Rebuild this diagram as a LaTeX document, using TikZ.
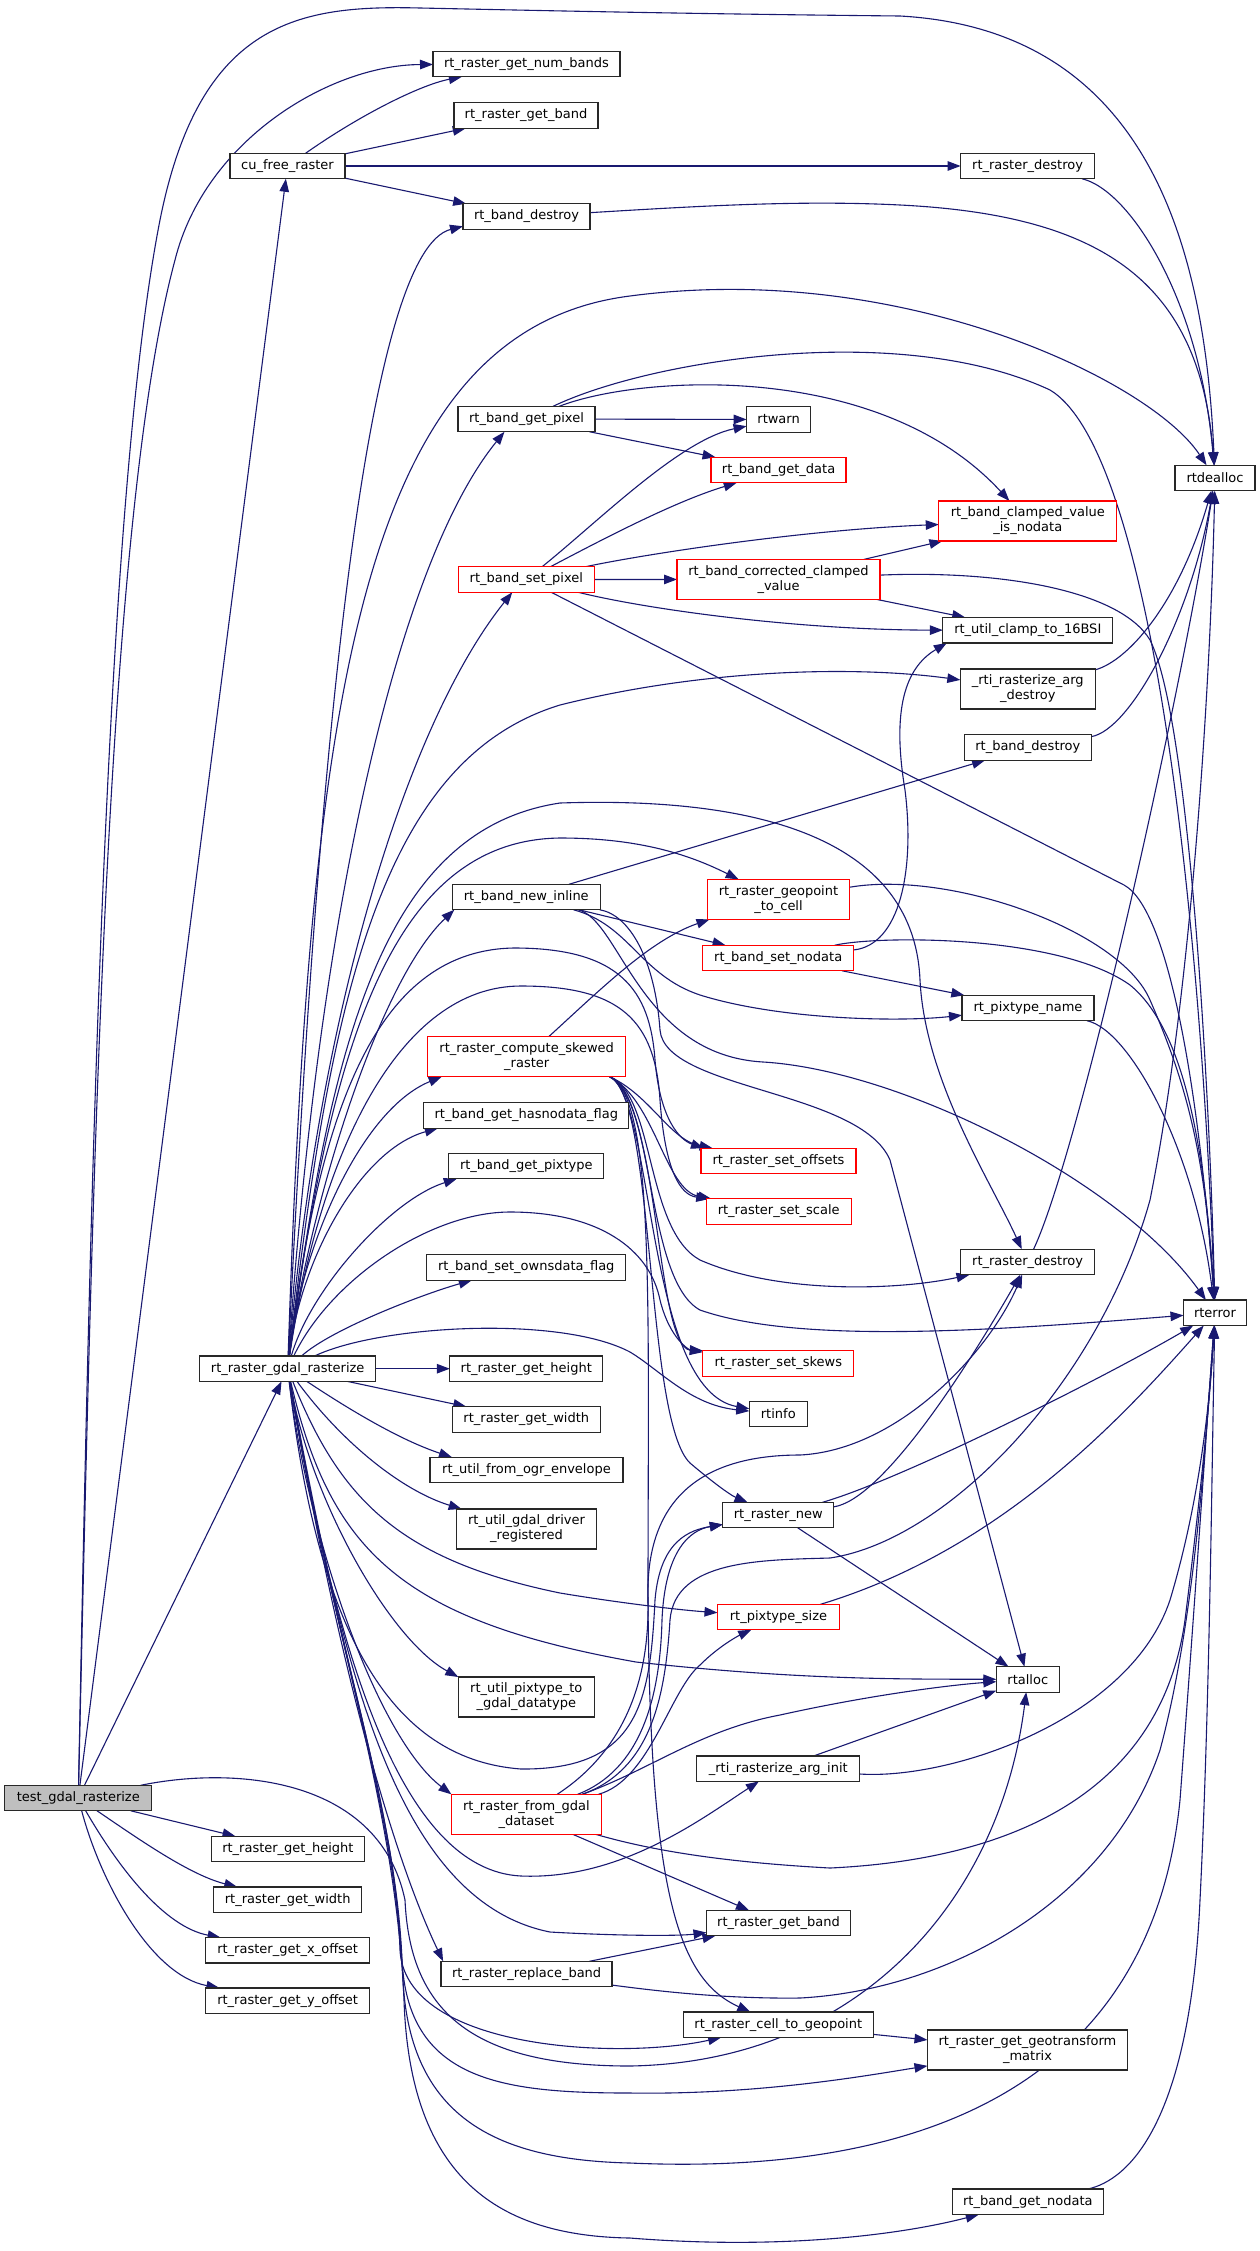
\documentclass[tikz,border=0pt]{standalone}
\usepackage{fontspec}
\newfontfamily\fnfont{DejaVu Sans}
\usetikzlibrary{arrows.meta}
\definecolor{edgec}{RGB}{25,25,112}
\definecolor{nodeb}{RGB}{40,40,40}
\definecolor{nodered}{RGB}{255,0,0}
\definecolor{curgray}{RGB}{191,191,191}
\pgfdeclarelayer{bg}
\pgfsetlayers{bg,main}
\tikzset{
 fn/.style={draw=nodeb, fill=white, line width=1.3pt, minimum height=25.5pt, inner sep=0pt, outer sep=0pt, font=\fnfont\fontsize{13pt}{15pt}\selectfont, align=center},
 fnr/.style={fn, draw=nodered},
 fnc/.style={fn, fill=curgray},
 tall/.style={minimum height=40pt},
 call/.style={draw=edgec, line width=1.1pt, -{Triangle[length=13pt,width=9.5pt]}},
}
\begin{document}
\begin{tikzpicture}[x=1pt,y=-1pt]
\useasboundingbox (0,0) rectangle (1260,2251);
% column 1
\node[fnc, minimum width=147pt] (T) at (78.3,1798) {test\_gdal\_rasterize};
% column 2
\node[fn, minimum width=115pt] (cu) at (287.5,166) {cu\_free\_raster};
\node[fn, minimum width=176pt] (R) at (287.7,1368.7) {rt\_raster\_gdal\_rasterize};
\node[fn, minimum width=153pt] (ghb) at (287.9,1849) {rt\_raster\_get\_height};
\node[fn, minimum width=148pt] (gwb) at (287.7,1899.7) {rt\_raster\_get\_width};
\node[fn, minimum width=164pt] (gx) at (287.7,1950.3) {rt\_raster\_get\_x\_offset};
\node[fn, minimum width=164pt] (gy) at (287.7,2000.7) {rt\_raster\_get\_y\_offset};
% column 3
\node[fn, minimum width=187pt] (nb) at (526.5,64) {rt\_raster\_get\_num\_bands};
\node[fn, minimum width=144pt] (gb1) at (526,115.5) {rt\_raster\_get\_band};
\node[fn, minimum width=127pt] (bd1) at (526.5,216.5) {rt\_band\_destroy};
\node[fn, minimum width=137pt] (gp) at (526.5,419) {rt\_band\_get\_pixel};
\node[fnr, minimum width=136pt] (sp) at (526.3,579.5) {rt\_band\_set\_pixel};
\node[fn, minimum width=148pt] (ni) at (526.3,897) {rt\_band\_new\_inline};
\node[fnr, tall, minimum width=198pt] (cs) at (526.7,1056.7) {rt\_raster\_compute\_skewed\\\_raster};
\node[fn, minimum width=205pt] (hn) at (526.3,1115.5) {rt\_band\_get\_hasnodata\_flag};
\node[fn, minimum width=155pt] (pt) at (526.3,1166) {rt\_band\_get\_pixtype};
\node[fn, minimum width=199pt] (so) at (526.3,1267.5) {rt\_band\_set\_ownsdata\_flag};
\node[fn, minimum width=153pt] (gh) at (526.3,1368.7) {rt\_raster\_get\_height};
\node[fn, minimum width=148pt] (gw) at (526.3,1419.4) {rt\_raster\_get\_width};
\node[fn, minimum width=193pt] (oe) at (526.5,1470) {rt\_util\_from\_ogr\_envelope};
\node[fn, tall, minimum width=140pt] (dr) at (526.5,1529) {rt\_util\_gdal\_driver\\\_registered};
\node[fn, tall, minimum width=136pt] (pg) at (526.3,1697) {rt\_util\_pixtype\_to\\\_gdal\_datatype};
\node[fnr, tall, minimum width=150pt] (fg) at (526.4,1814.3) {rt\_raster\_from\_gdal\\\_dataset};
\node[fn, minimum width=171pt] (rb) at (526.6,1974) {rt\_raster\_replace\_band};
% column 4
\node[fn, minimum width=64pt] (rtwarn) at (778.6,419.5) {rtwarn};
\node[fnr, minimum width=135pt] (gd) at (778.6,470) {rt\_band\_get\_data};
\node[fnr, tall, minimum width=203pt] (cc) at (778.5,579.4) {rt\_band\_corrected\_clamped\\\_value};
\node[fnr, tall, minimum width=142pt] (g2c) at (778.5,899.4) {rt\_raster\_geopoint\\\_to\_cell};
\node[fnr, minimum width=151pt] (sn) at (778.2,958) {rt\_band\_set\_nodata};
\node[fnr, minimum width=155pt] (sof) at (778.5,1161) {rt\_raster\_set\_offsets};
\node[fnr, minimum width=145pt] (ssc) at (778.7,1211.5) {rt\_raster\_set\_scale};
\node[fnr, minimum width=151pt] (ssk) at (778.3,1363.4) {rt\_raster\_set\_skews};
\node[fn, minimum width=58pt] (rtinfo) at (778.3,1414) {rtinfo};
\node[fn, minimum width=111pt] (rn) at (778.3,1515) {rt\_raster\_new};
\node[fnr, minimum width=122pt] (ps) at (778.5,1617) {rt\_pixtype\_size};
\node[fn, minimum width=163pt] (ai) at (778.3,1768.6) {\_rti\_rasterize\_arg\_init};
\node[fn, minimum width=144pt] (gb2) at (778.5,1923) {rt\_raster\_get\_band};
\node[fn, minimum width=190pt] (c2g) at (778.3,2024.7) {rt\_raster\_cell\_to\_geopoint};
% column 5
\node[fn, minimum width=134pt] (rd1) at (1027.6,166) {rt\_raster\_destroy};
\node[fnr, tall, minimum width=178pt] (cn) at (1027.8,521) {rt\_band\_clamped\_value\\\_is\_nodata};
\node[fn, minimum width=170pt] (cl) at (1027.8,630.2) {rt\_util\_clamp\_to\_16BSI};
\node[fn, tall, minimum width=135pt] (ad) at (1027.8,689) {\_rti\_rasterize\_arg\\\_destroy};
\node[fn, minimum width=127pt] (bd2) at (1027.8,747.5) {rt\_band\_destroy};
\node[fn, minimum width=132pt] (pn) at (1028,1008) {rt\_pixtype\_name};
\node[fn, minimum width=134pt] (rd2) at (1027.6,1262) {rt\_raster\_destroy};
\node[fn, minimum width=63pt] (rtalloc) at (1027.8,1679.4) {rtalloc};
\node[fn, tall, minimum width=200pt] (gt) at (1027.5,2050) {rt\_raster\_get\_geotransform\\\_matrix};
\node[fn, minimum width=151pt] (bgn) at (1027.8,2201.8) {rt\_band\_get\_nodata};
% column 6
\node[fn, minimum width=80pt] (rtdealloc) at (1215,478) {rtdealloc};
\node[fn, minimum width=63pt] (rterror) at (1215,1312.8) {rterror};

\begin{pgfonlayer}{bg}
\fill[white] (0,0) rectangle (1260,2251);
% test_gdal_rasterize
\draw[call] (T) .. controls (90,1200) and (105,500) .. (160,220) .. controls (200,20) and (300,5) .. (420,8) .. controls (560,11) and (700,14) .. (900,16) .. controls (1150,30) and (1205,250) .. (rtdealloc);
\draw[call] (T) .. controls (92,1200) and (105,520) .. (175,260) .. controls (205,140) and (330,65) .. (nb);
\draw[call] (T) -- (cu);
\draw[call] (T) -- (R);
\draw[call] (T) -- (ghb);
\draw[call] (T) .. controls (140,1840) and (190,1875) .. (gwb);
\draw[call] (T) .. controls (120,1870) and (165,1927) .. (gx);
\draw[call] (T) .. controls (100,1880) and (150,1975) .. (gy);
\draw[call] (T) .. controls (240,1765) and (380,1780) .. (405,1900) .. controls (410,2010) and (470,2066) .. (630,2066) .. controls (860,2062) and (1000,1900) .. (rtalloc);
% cu_free_raster
\draw[call] (cu) .. controls (360,115) and (420,85) .. (nb);
\draw[call] (cu) -- (gb1);
\draw[call] (cu) -- (rd1);
\draw[call] (cu) -- (bd1);
\draw[call] (rd1) .. controls (1130,190) and (1200,300) .. (rtdealloc);
\draw[call] (bd1) .. controls (700,206) and (800,200) .. (900,205) .. controls (1100,215) and (1200,280) .. (rtdealloc);
% rt_band_get_pixel
\draw[call] (gp) -- (rtwarn);
\draw[call] (gp) -- (gd);
\draw[call] (gp) .. controls (640,375) and (880,360) .. (cn);
\draw[call] (gp) .. controls (650,360) and (900,320) .. (1050,390) .. controls (1150,450) and (1200,900) .. (rterror);
% rt_band_set_pixel
\draw[call] (sp) .. controls (600,520) and (680,440) .. (rtwarn);
\draw[call] (sp) .. controls (620,530) and (680,500) .. (gd);
\draw[call] (sp) .. controls (640,555) and (800,530) .. (cn);
\draw[call] (sp) -- (cc);
\draw[call] (sp) .. controls (650,610) and (800,630) .. (cl);
\draw[call] (sp) -- (1124,885) .. controls (1170,910) and (1200,1100) .. (rterror);
% rt_band_corrected_clamped_value
\draw[call] (cc) -- (cn);
\draw[call] (cc) -- (cl);
\draw[call] (cc) .. controls (1000,570) and (1120,590) .. (1150,640) .. controls (1190,720) and (1210,1100) .. (rterror);
% destroy helpers
\draw[call] (ad) .. controls (1130,660) and (1180,600) .. (rtdealloc);
\draw[call] (bd2) .. controls (1130,730) and (1190,620) .. (rtdealloc);
% rt_band_new_inline
\draw[call] (ni) -- (bd2);
\draw[call] (ni) -- (sn);
\draw[call] (ni) .. controls (630,925) and (640,975) .. (700,995) .. controls (780,1020) and (900,1022) .. (pn);
\draw[call] (ni) .. controls (620,920) and (640,1055) .. (763,1062) .. controls (900,1070) and (1120,1180) .. (rterror);
\draw[call] (ni) .. controls (630,915) and (655,960) .. (660,1030) .. controls (665,1090) and (860,1090) .. (890,1160) -- (rtalloc);
% rt_band_set_nodata
\draw[call] (sn) .. controls (900,945) and (915,870) .. (905,790) .. controls (890,700) and (910,665) .. ([xshift=4pt]cl.south west);
\draw[call] (sn) -- (pn);
\draw[call] (sn) .. controls (880,935) and (1060,935) .. (1130,985) .. controls (1185,1030) and (1205,1150) .. (rterror);
% geopoint / pixtype name
\draw[call] (g2c) .. controls (950,870) and (1120,930) .. (1150,1000) .. controls (1185,1080) and (1205,1150) .. (rterror);
\draw[call] (pn) .. controls (1130,1030) and (1195,1150) .. (rterror);
% rt_raster_compute_skewed_raster
\draw[call] (cs) .. controls (600,990) and (650,940) .. ([xshift=2pt]g2c.south west);
\draw[call] ([xshift=-16pt]cs.south east) .. controls (650,1095) and (670,1140) .. (sof);
\draw[call] ([xshift=-16pt]cs.south east) .. controls (655,1100) and (665,1190) .. (ssc);
\draw[call] ([xshift=-16pt]cs.south east) .. controls (660,1100) and (655,1345) .. (ssk);
\draw[call] ([xshift=-16pt]cs.south east) .. controls (655,1100) and (645,1390) .. (rtinfo);
\draw[call] ([xshift=-16pt]cs.south east) .. controls (655,1095) and (645,1230) .. (700,1260) .. controls (780,1295) and (900,1290) .. (rd2);
\draw[call] ([xshift=-16pt]cs.south east) .. controls (655,1095) and (645,1420) .. (690,1463) .. controls (710,1480) and (730,1495) .. (rn);
\draw[call] ([xshift=-16pt]cs.south east) .. controls (655,1095) and (645,1280) .. (700,1310) .. controls (800,1345) and (1000,1330) .. (rterror);
\draw[call] ([xshift=-16pt]cs.south east) .. controls (655,1100) and (648,1300) .. (648,1600) .. controls (650,1900) and (680,1980) .. (c2g);
% rt_raster_destroy (lower)
\draw[call] (rd2) .. controls (1080,1150) and (1180,700) .. (rtdealloc);
% rt_raster_new
\draw[call] (rn) .. controls (880,1500) and (960,1380) .. (rd2);
\draw[call] (rn) .. controls (900,1480) and (1100,1380) .. (rterror);
\draw[call] (rn) -- (rtalloc);
% rt_pixtype_size
\draw[call] (ps) .. controls (1000,1550) and (1120,1420) .. (rterror);
% _rti_rasterize_arg_init
\draw[call] (ai) -- (rtalloc);
\draw[call] (ai) .. controls (950,1780) and (1130,1720) .. (1170,1600) .. controls (1200,1500) and (1210,1400) .. (rterror);
% rt_raster_from_gdal_dataset
\draw[call] (fg) .. controls (610,1760) and (650,1700) .. (648,1600) .. controls (645,1500) and (700,1455) .. (800,1455) .. controls (900,1450) and (990,1350) .. (rd2);
\draw[call] (fg) .. controls (640,1770) and (660,1700) .. (662,1620) .. controls (665,1550) and (690,1530) .. (rn);
\draw[call] (fg) .. controls (650,1770) and (665,1700) .. (670,1620) .. controls (675,1560) and (760,1560) .. (830,1558) .. controls (950,1540) and (1100,1380) .. (1150,1200) .. controls (1190,1000) and (1210,700) .. (rtdealloc);
\draw[call] (fg) .. controls (650,1780) and (670,1690) .. (700,1665) .. controls (720,1645) and (740,1635) .. (ps);
\draw[call] (fg) .. controls (650,1770) and (700,1730) .. (780,1715) .. controls (870,1695) and (950,1685) .. (rtalloc);
\draw[call] (fg) -- (gb2);
\draw[call] (fg) .. controls (650,1850) and (720,1862) .. (830,1868) .. controls (1000,1860) and (1160,1800) .. (1185,1620) .. controls (1200,1500) and (1210,1400) .. (rterror);
% rt_raster_replace_band
\draw[call] (rb) -- (gb2);
\draw[call] (rb) .. controls (650,1990) and (720,1999) .. (800,1998) .. controls (950,1990) and (1110,1900) .. (1160,1750) .. controls (1195,1620) and (1205,1450) .. (rterror);
% cell to geopoint / nodata
\draw[call] (c2g) -- (gt);
\draw[call] (bgn) .. controls (1130,2180) and (1190,2120) .. (1200,1900) .. controls (1210,1700) and (1212,1450) .. (rterror);
% rt_raster_gdal_rasterize, upwards
\draw[call] (R) .. controls (320,700) and (370,250) .. ([yshift=3pt]bd1.south west);
\draw[call] (R) .. controls (310,700) and (360,330) .. (630,296) .. controls (900,260) and (1150,380) .. (rtdealloc);
\draw[call] (R) .. controls (320,900) and (400,560) .. ([xshift=-22pt]gp.south);
\draw[call] (R) .. controls (320,1000) and (410,720) .. ([xshift=-14pt]sp.south);
\draw[call] (R) .. controls (330,1000) and (380,760) .. (560,705) .. controls (700,670) and (850,665) .. (ad);
\draw[call] (R) .. controls (330,1050) and (380,830) .. (560,803) .. controls (800,795) and (915,860) .. (920,980) .. controls (925,1080) and (990,1180) .. (rd2);
\draw[call] (R) .. controls (330,1050) and (390,840) .. (560,838) .. controls (640,838) and (690,855) .. (g2c);
\draw[call] (R) .. controls (310,1200) and (380,980) .. ([xshift=2pt]ni.south west);
\draw[call] (R) .. controls (320,1100) and (380,950) .. (514,948) .. controls (620,948) and (650,990) .. (655,1060) .. controls (660,1120) and (680,1140) .. ([xshift=3pt]sof.north west);
\draw[call] (R) .. controls (320,1150) and (400,986) .. (521,986) .. controls (620,986) and (655,1020) .. (660,1100) .. controls (665,1170) and (680,1195) .. ([xshift=3pt]ssc.north west);
\draw[call] (R) .. controls (330,1280) and (430,1212) .. (510,1212) .. controls (600,1212) and (650,1250) .. (660,1300) .. controls (670,1340) and (690,1350) .. (ssk.north west);
\draw[call] (R) .. controls (300,1250) and (360,1110) .. ([xshift=14pt]cs.south west);
\draw[call] (R) .. controls (300,1260) and (360,1150) .. ([xshift=14pt]hn.south west);
\draw[call] (R) .. controls (310,1290) and (390,1200) .. ([xshift=8pt]pt.south west);
\draw[call] (R) .. controls (330,1330) and (420,1295) .. ([xshift=45pt]so.south west);
\draw[call] (R) .. controls (380,1325) and (560,1315) .. (630,1352) .. controls (660,1370) and (690,1405) .. (rtinfo);
% rt_raster_gdal_rasterize, rightwards and downwards
\draw[call] (R) -- (gh);
\draw[call] (R) -- (gw);
\draw[call] (R) .. controls (350,1410) and (400,1440) .. ([xshift=22pt]oe.north west);
\draw[call] (R) .. controls (340,1440) and (400,1490) .. (dr);
\draw[call] (R) .. controls (310,1500) and (390,1640) .. (pg.north west);
\draw[call] (R) .. controls (310,1550) and (380,1740) .. (fg.north west);
\draw[call] (R) .. controls (335,1650) and (390,1850) .. ([xshift=2pt]rb.north west);
\draw[call] (R) .. controls (340,1650) and (390,1900) .. (550,1932) .. controls (620,1936) and (680,1936) .. (gb2);
\draw[call] (R) .. controls (340,1500) and (400,1560) .. (560,1593) .. controls (620,1603) and (680,1610) .. (ps);
\draw[call] (R) .. controls (330,1550) and (400,1620) .. (636,1662) .. controls (800,1680) and (900,1679) .. (rtalloc);
\draw[call] (R) .. controls (335,1650) and (400,1870) .. (521,1876) .. controls (620,1880) and (700,1820) .. (ai);
\draw[call] (R) .. controls (320,1650) and (400,1760) .. (521,1769) .. controls (640,1770) and (650,1700) .. (655,1600) .. controls (660,1540) and (690,1530) .. (rn);
\draw[call] (R) .. controls (335,1650) and (395,1800) .. (400,1950) .. controls (405,2050) and (620,2060) .. (c2g);
\draw[call] (R) .. controls (335,1650) and (395,1800) .. (402,1960) .. controls (408,2080) and (500,2093) .. (630,2093) .. controls (760,2095) and (870,2075) .. (gt);
\draw[call] (R) .. controls (335,1650) and (395,1800) .. (403,1980) .. controls (410,2120) and (500,2160) .. (630,2163) .. controls (900,2175) and (1150,2100) .. (1180,1800) .. controls (1195,1600) and (1205,1450) .. (rterror);
\draw[call] (R) .. controls (335,1650) and (395,1800) .. (404,2000) .. controls (410,2180) and (500,2236) .. (630,2238) .. controls (780,2250) and (900,2235) .. (bgn);
\end{pgfonlayer}
\end{tikzpicture}
\end{document}
